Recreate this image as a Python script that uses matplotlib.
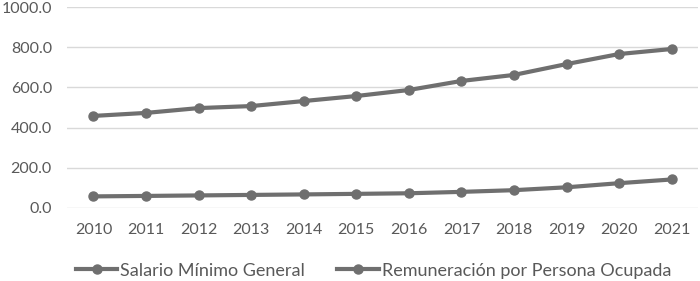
import matplotlib
matplotlib.use("Agg")
import matplotlib.pyplot as plt

years = [2010, 2011, 2012, 2013, 2014, 2015, 2016, 2017, 2018, 2019, 2020, 2021]
salario_minimo = [57.5, 59.8, 62.3, 64.8, 67.3, 70.1, 73.0, 80.0, 88.4, 102.7, 123.2, 141.7]
remuneracion = [458, 473, 497, 507, 532, 557, 587, 632, 662, 716, 766, 791]
yticks = [0, 200, 400, 600, 800, 1000]

plt.rcParams["font.family"] = ["Lato", "DejaVu Sans"]
line_color = "#6f6f6f"
text_color = "#595959"

fig = plt.figure(figsize=(7.0, 2.81), dpi=100)
ax = fig.add_axes([0.096, 0.26, 0.901, 0.715])

ax.plot(years, salario_minimo, color=line_color, lw=3, marker="o", ms=6.5,
        label="Salario Mínimo General")
ax.plot(years, remuneracion, color=line_color, lw=3, marker="o", ms=6.5,
        label="Remuneración por Persona Ocupada")

ax.set_xlim(2009.5, 2021.5)
ax.set_ylim(0, 1000)
ax.set_xticks(years)
ax.set_xticklabels([str(y) for y in years])
ax.set_yticks(yticks)
ax.set_yticklabels([f"{v:.1f}" for v in yticks])
ax.tick_params(length=0, labelsize=11.5, colors=text_color)
ax.tick_params(axis="x", pad=11)
ax.tick_params(axis="y", pad=11)
ax.grid(axis="y", color="#d9d9d9", lw=1)
ax.set_axisbelow(True)
for s in ax.spines.values():
    s.set_visible(False)

fig.legend(loc="lower left", bbox_to_anchor=(0.085, -0.05), ncol=2, frameon=False,
           fontsize=13, labelcolor=text_color, handlelength=2.3,
           handletextpad=0.15, columnspacing=1.8)

fig.savefig("out.png", dpi=100, facecolor="white")
